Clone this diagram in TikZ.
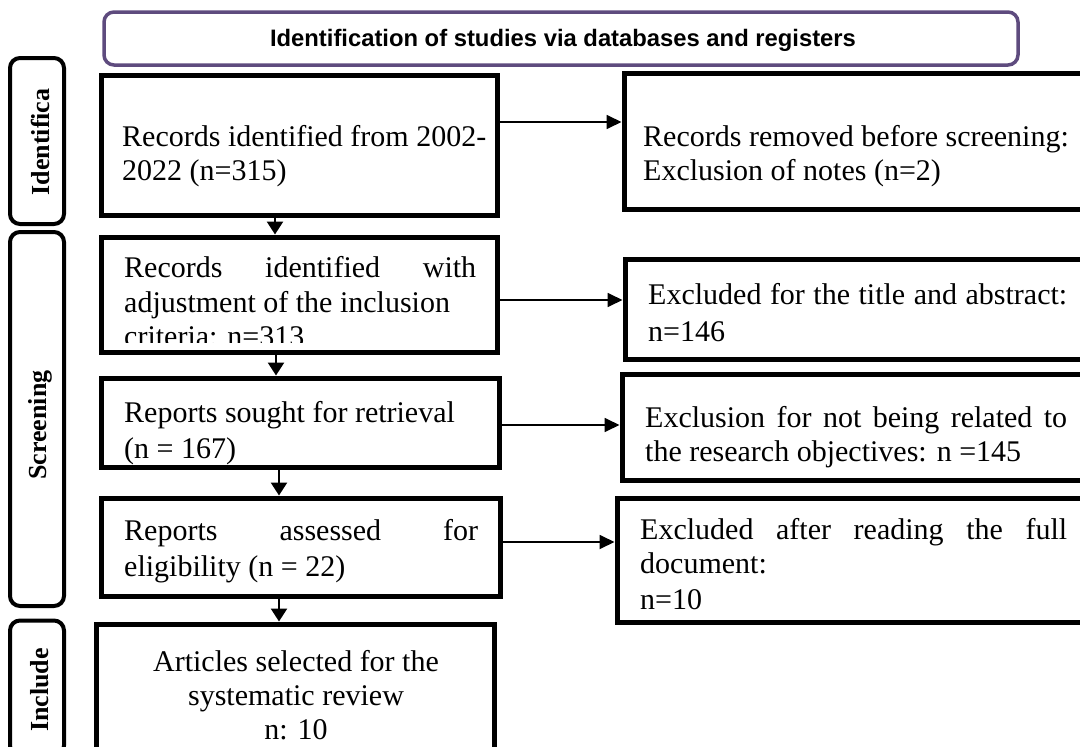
\documentclass[tikz,border=0pt]{standalone}
\usepackage{fontspec}
\setmainfont{Liberation Serif}
\setsansfont{Liberation Sans}
\usetikzlibrary{arrows.meta,calc}
\definecolor{titlepurple}{HTML}{5E4B7E}
\tikzset{
  stagebox/.style={draw=black, line width=5pt, fill=white, inner sep=0pt},
  sidebox/.style={draw=black, line width=4pt, rounded corners=10pt, fill=white, inner sep=0pt},
  titlebox/.style={draw=titlepurple, line width=3.5pt, rounded corners=10pt, fill=white, inner sep=0pt},
  txt/.style={inner sep=0pt, anchor=base west, font=\fontsize{30}{34}\selectfont},
  ctxt/.style={inner sep=0pt, anchor=base, font=\fontsize{30}{34}\selectfont},
  sidetxt/.style={inner sep=0pt, rotate=90, font=\fontsize{26}{28}\selectfont\bfseries},
  arr/.style={line width=1.8pt, -{Triangle[length=15pt,width=14pt]}},
  varr/.style={line width=2.6pt, -{Triangle[length=13pt,width=16pt]}}
}
\begin{document}
\begin{tikzpicture}[x=1pt,y=-1pt]
\clip (0,0) rectangle (1080,747);
\fill[white] (0,0) rectangle (1080,747);
% title
\node[titlebox, minimum width=914pt, minimum height=53pt] (title) at (561,38.5) {};
\node[inner sep=0pt, font=\sffamily\bfseries\fontsize{23.8}{26}\selectfont] (titletxt) at (563,40) {Identification of studies via databases and registers};
% side labels
\node[sidebox, minimum width=54pt, minimum height=166pt] (sideI) at (37,141) {};
\node[sidetxt] (sideItxt) at (40,142) {Identifica};
\node[sidebox, minimum width=54pt, minimum height=374pt] (sideS) at (37,419) {};
\node[sidetxt] (sideStxt) at (40,425) {Screening};
\node[sidebox, minimum width=54pt, minimum height=135pt] (sideC) at (37,688) {};
\node[sidetxt] (sideCtxt) at (40,690) {Include};
% left column boxes
\node[stagebox, minimum width=396pt, minimum height=140pt] (A) at (299,145) {};
\node[stagebox, minimum width=396pt, minimum height=115pt] (C) at (299,294.5) {};
\node[stagebox, minimum width=398pt, minimum height=89pt] (E) at (300,422.5) {};
\node[stagebox, minimum width=399pt, minimum height=98pt] (G) at (300.5,547) {};
\node[stagebox, minimum width=398pt, minimum height=128pt] (I) at (295,688) {};
% right column boxes
\node[stagebox, minimum width=471pt, minimum height=136pt] (B) at (859.5,141) {};
\node[stagebox, minimum width=470pt, minimum height=100pt] (D) at (860,309) {};
\node[stagebox, minimum width=473pt, minimum height=106pt] (F) at (858.5,427) {};
\node[stagebox, minimum width=478pt, minimum height=124pt] (H) at (856,560) {};
% texts
\node[txt] (A1) at (122,146) {Records identified from 2002-};
\node[txt] (A2) at (122,180) {2022 (n=315)};
\node[txt] (B1) at (643,146) {Records removed before screening:};
\node[txt] (B2) at (643,180) {Exclusion of notes (n=2)};
\node[txt] (C1) at (124,277) {\makebox[352pt][s]{Records identified with}};
\node[txt] (C2) at (124,312) {adjustment of the inclusion};
\begin{scope}
\clip (101,237) rectangle (497,342);
\node[txt] (C3) at (124,346) {criteria: n=313};
\end{scope}
\node[txt] (D1) at (648,304) {\makebox[419pt][s]{Excluded for the title and abstract:}};
\node[txt] (D2) at (648,341) {n=146};
\node[txt] (E1) at (124,422) {Reports sought for retrieval};
\node[txt] (E2) at (124,458) {(n = 167)};
\node[txt] (F1) at (645,427) {\makebox[422pt][s]{Exclusion for not being related to}};
\node[txt] (F2) at (645,461) {the research objectives: n =145};
\node[txt] (G1) at (124,540) {\makebox[354pt][s]{Reports assessed for}};
\node[txt] (G2) at (124,576) {eligibility (n = 22)};
\node[txt] (H1) at (640,539) {\makebox[427pt][s]{Excluded after reading the full}};
\node[txt] (H2) at (640,573) {document:};
\node[txt] (H3) at (640,609) {n=10};
\node[ctxt] (I1) at (296,671) {Articles selected for the};
\node[ctxt] (I2) at (296,705) {systematic review};
\node[ctxt] (I3) at (296,739) {n: 10};
% horizontal arrows
\coordinate (ab) at ([yshift=23pt]A.east);
\draw[arr] (ab) -- (ab -| B.west);
\coordinate (cd) at ([yshift=-5.5pt]C.east);
\draw[arr] (cd) -- (cd -| D.west);
\coordinate (ef) at ([yshift=-2.5pt]E.east);
\draw[arr] (ef) -- (ef -| F.west);
\coordinate (gh) at ([yshift=5pt]G.east);
\draw[arr] (gh) -- (gh -| H.west);
% vertical arrows
\coordinate (ac) at ([xshift=-24pt]A.south);
\draw[varr] (ac) -- (ac |- C.north);
\coordinate (ce) at ([xshift=-23pt]C.south);
\draw[varr] (ce) -- (ce |- E.north);
\coordinate (eg) at ([xshift=-21pt]E.south);
\draw[varr] (eg) -- (eg |- G.north);
\coordinate (gi) at ([xshift=-21.5pt]G.south);
\draw[varr] (gi) -- (gi |- I.north);
\end{tikzpicture}
\end{document}
